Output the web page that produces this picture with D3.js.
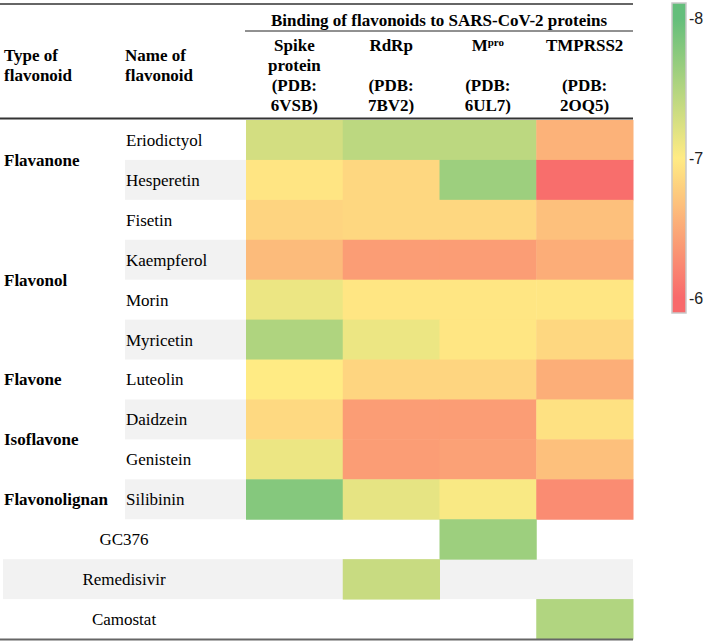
<!DOCTYPE html>
<html>
<head>
<meta charset="utf-8">
<script src="https://cdn.jsdelivr.net/npm/d3@7"></script>
<style>
  html, body { margin: 0; padding: 0; background: #fff; }
  svg { display: block; }
  text { font-family: "Liberation Serif", "Times New Roman", serif; fill: #000; }
</style>
</head>
<body>
<div id="chart"></div>
<script>
// ---------------- DATA ----------------
const compounds = ["Eriodictyol", "Hesperetin", "Fisetin", "Kaempferol", "Morin", "Myricetin",
  "Luteolin", "Daidzein", "Genistein", "Silibinin", "GC376", "Remedisivir", "Camostat"];
const proteins = ["Spike", "RdRp", "Mpro", "TMPRSS2"];
// binding energies (kcal/mol), null = not tested
const spikeValues   = [-7.28, -6.95, -6.82, -6.63, -7.12, -7.51, -7.00, -6.86, -7.12, -7.78, null, null, null];
const rdrpValues    = [-7.43, -6.85, -6.85, -6.40, -6.96, -7.12, -6.83, -6.40, -6.40, -7.16, null, -7.35, null];
const mproValues    = [-7.43, -7.63, -6.85, -6.40, -6.96, -6.96, -6.83, -6.40, -6.43, -7.04, -7.63, null, null];
const tmprss2Values = [-6.56, -6.04, -6.67, -6.52, -6.96, -6.85, -6.53, -6.92, -6.67, -6.27, null, null, -7.50];
const typeNames = ["Flavanone", "Flavonol", "Flavone", "Isoflavone", "Flavonolignan"];
const typeFirstRow = [0, 2, 6, 7, 9];
const typeRowCount = [2, 4, 1, 2, 1];
const proteinHeaderLines = [
  ["Spike", "protein", "(PDB:", "6VSB)"],
  ["RdRp", "", "(PDB:", "7BV2)"],
  ["M|pro", "", "(PDB:", "6UL7)"],
  ["TMPRSS2", "", "(PDB:", "2OQ5)"]
];
const colorStops = [-8, -7, -6];
const colorRange = ["#63be7b", "#ffeb84", "#f8696b"];
const legendTicks = [-8, -7, -6];

const valueSeries = [spikeValues, rdrpValues, mproValues, tmprss2Values];

// ---------------- SETUP ----------------
const W = 709, H = 644;
const svg = d3.select("#chart").append("svg").attr("width", W).attr("height", H);

const tableLeft = 0, tableRight = 633;
const y = d3.scaleBand().domain(compounds).range([120, 639]);
const x = d3.scaleBand().domain(proteins).range([246, 633]);
const color = d3.scaleLinear().domain(colorStops).range(colorRange).clamp(true);
const nFlav = 10;

// grey bands
svg.append("g").selectAll("rect")
  .data(compounds.filter((d, i) => i % 2 === 1))
  .join("rect")
  .attr("x", d => compounds.indexOf(d) >= nFlav ? 3 : 125)
  .attr("y", d => y(d))
  .attr("width", d => compounds.indexOf(d) >= nFlav ? tableRight - 3 : tableRight - 125)
  .attr("height", y.bandwidth())
  .attr("fill", "#f2f2f2");

// cells
const cells = [];
compounds.forEach((c, i) => proteins.forEach((p, j) => {
  const v = valueSeries[j][i];
  if (v !== null) cells.push({ c, p, v });
}));
svg.append("g").selectAll("rect")
  .data(cells)
  .join("rect")
  .attr("x", d => x(d.p))
  .attr("y", d => y(d.c))
  .attr("width", x.bandwidth() + 0.5)
  .attr("height", y.bandwidth() + 0.5)
  .attr("fill", d => color(d.v));

// compound names
svg.append("g").selectAll("text")
  .data(compounds)
  .join("text")
  .attr("x", (d, i) => i >= nFlav ? 124 : 126)
  .attr("y", d => y(d) + y.bandwidth() / 2)
  .attr("dy", "0.35em")
  .attr("text-anchor", (d, i) => i >= nFlav ? "middle" : "start")
  .style("font-size", "17px")
  .text(d => d);

// type names
svg.append("g").selectAll("text")
  .data(typeNames)
  .join("text")
  .attr("x", 4)
  .attr("y", (d, i) => y(compounds[typeFirstRow[i]]) + typeRowCount[i] * y.bandwidth() / 2)
  .attr("dy", "0.35em")
  .style("font-size", "17px")
  .style("font-weight", "bold")
  .text(d => d);

// header
const hdr = svg.append("g").style("font-size", "17px").style("font-weight", "bold");
function multi(g, lines, xx, y0, anchor) {
  lines.forEach((l, k) => {
    if (!l) return;
    const t = g.append("text").attr("x", xx).attr("y", y0 + k * 20).attr("dy", "0.35em")
      .attr("text-anchor", anchor);
    if (l.includes("|")) {
      const [a, b] = l.split("|");
      t.append("tspan").text(a);
      t.append("tspan").attr("dy", "-0.45em").style("font-size", "11px").text(b);
    } else t.text(l);
  });
}
multi(hdr, ["Type of", "flavonoid"], 4, 55, "start");
multi(hdr, ["Name of", "flavonoid"], 125, 55, "start");
hdr.append("text").attr("x", (245 + 633) / 2).attr("y", 20).attr("dy", "0.35em")
  .attr("text-anchor", "middle").text("Binding of flavonoids to SARS-CoV-2 proteins");
proteins.forEach((p, j) => multi(hdr, proteinHeaderLines[j], x(p) + x.bandwidth() / 2, 45, "middle"));

// rules
svg.append("line").attr("x1", tableLeft).attr("x2", tableRight).attr("y1", 4).attr("y2", 4)
  .attr("stroke", "#333").attr("stroke-width", 1.5);
svg.append("line").attr("x1", 245).attr("x2", tableRight).attr("y1", 31).attr("y2", 31)
  .attr("stroke", "#222").attr("stroke-width", 1);
svg.append("line").attr("x1", tableLeft).attr("x2", tableRight).attr("y1", 118.5).attr("y2", 118.5)
  .attr("stroke", "#333").attr("stroke-width", 2);
svg.append("line").attr("x1", tableLeft).attr("x2", tableRight).attr("y1", 639.5).attr("y2", 639.5)
  .attr("stroke", "#666").attr("stroke-width", 2);

// ---------------- LEGEND ----------------
const ly = d3.scaleLinear().domain([-8, -6]).range([18, 298]);
const barTop = 3, barBot = 313;
const defs = svg.append("defs");
const grad = defs.append("linearGradient").attr("id", "lg")
  .attr("x1", 0).attr("x2", 0).attr("y1", 0).attr("y2", 1);
const vTop = ly.invert(barTop), vBot = ly.invert(barBot);
d3.range(0, 1.0001, 0.05).forEach(t => {
  const v = vTop + (vBot - vTop) * t;
  grad.append("stop").attr("offset", t).attr("stop-color", color(v));
});
svg.append("rect").attr("x", 672).attr("y", barTop).attr("width", 14).attr("height", barBot - barTop)
  .attr("fill", "url(#lg)").attr("stroke", "#c8c8c8").attr("stroke-width", 1.5);
const ax = svg.append("g").attr("transform", "translate(686,0)")
  .call(d3.axisRight(ly).tickValues(legendTicks).tickSize(0).tickPadding(3).tickFormat(d => String(d)));
ax.select(".domain").remove();
ax.selectAll("text").style("font-family", "'Liberation Sans', Arial, sans-serif")
  .style("font-size", "16px").style("fill", "#222");
</script>
</body>
</html>
